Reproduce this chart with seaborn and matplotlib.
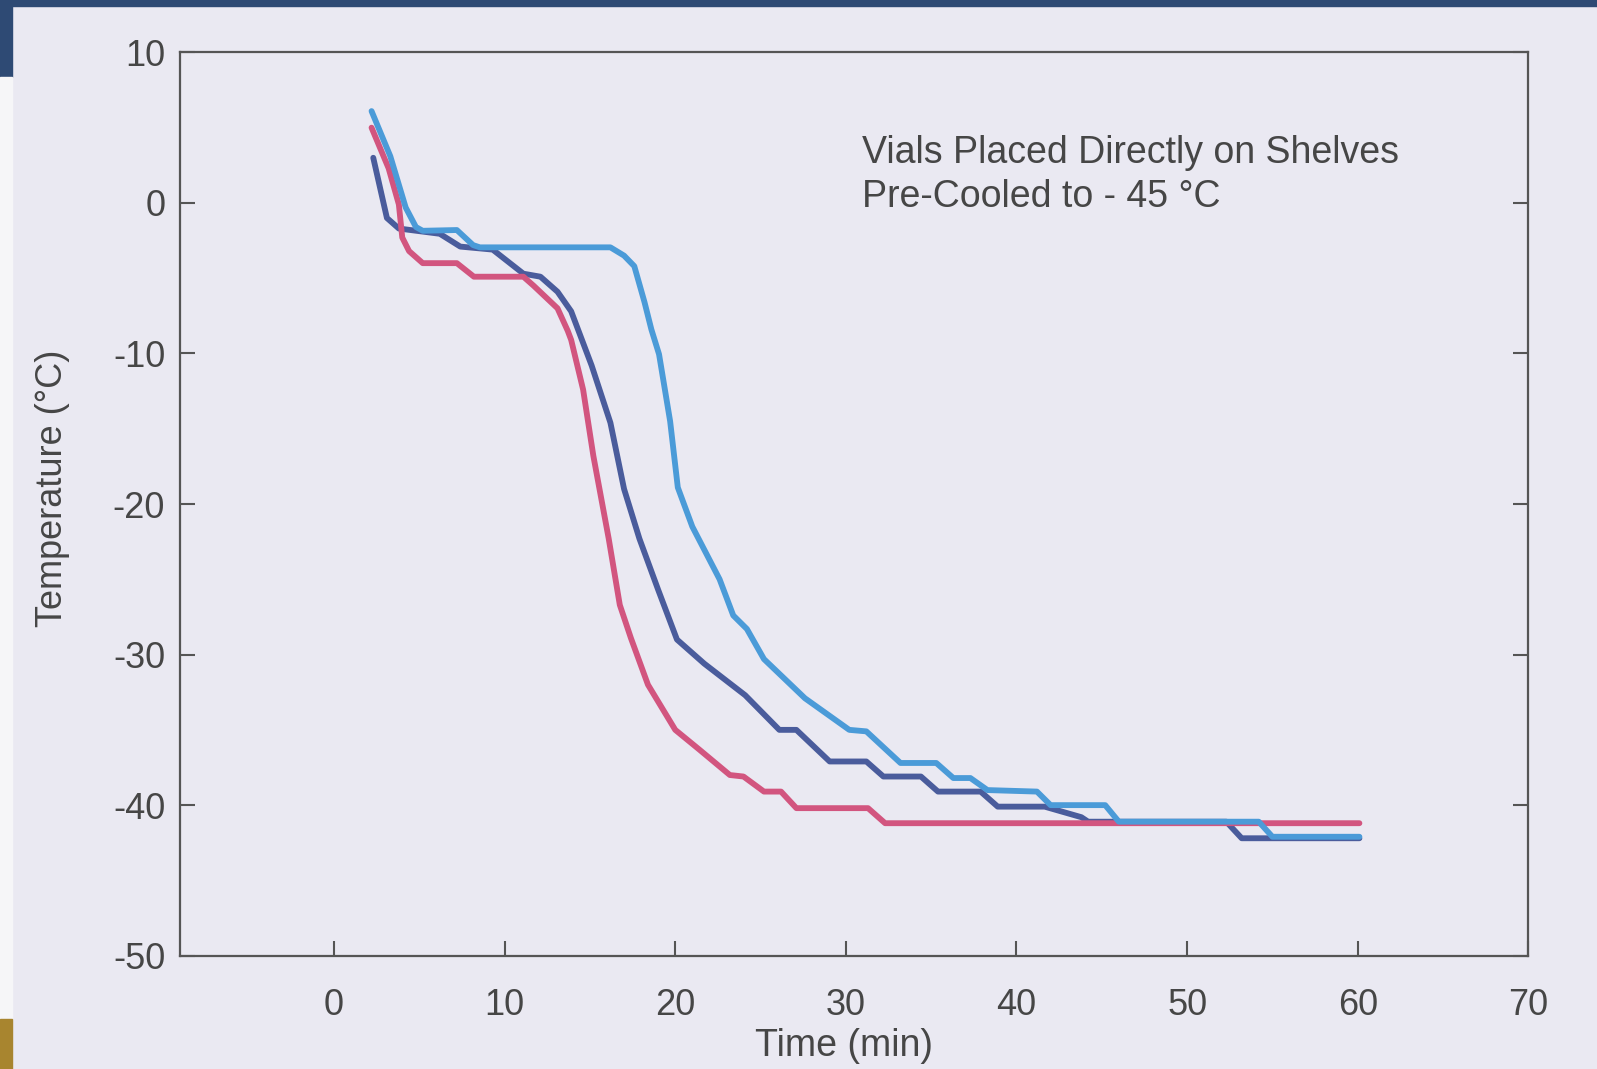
import seaborn as sns
import matplotlib.pyplot as plt
import pandas as pd
from matplotlib.patches import Rectangle

# curves: time (min) vs temperature (deg C)
red_time = [2.2, 3.2, 3.8, 4.0, 4.4, 5.2, 7.2, 8.2, 11.1, 11.7, 13.1, 13.7, 13.9, 14.6,
            15.2, 16.1, 16.75, 17.4, 18.4, 20.0, 21.4, 23.2, 24.0, 25.2, 26.2, 27.1,
            31.3, 32.3, 60.1]
red_temp = [5.0, 2.3, -0.1, -2.3, -3.2, -4.0, -4.0, -4.9, -4.9, -5.5, -7.0, -8.5, -9.1, -12.4,
            -16.8, -22.3, -26.7, -28.9, -32.0, -35.0, -36.3, -38.0, -38.1, -39.1, -39.1, -40.2,
            -40.2, -41.2, -41.2]

dark_time = [2.3, 2.8, 3.1, 3.8, 6.2, 7.4, 9.3, 11.1, 12.1, 13.1, 13.9, 15.1, 16.2, 17.0,
             17.9, 19.0, 20.1, 21.7, 24.1, 26.1, 27.1, 29.05, 31.2, 32.2, 34.4, 35.4, 37.9,
             38.9, 41.65, 43.8, 44.2, 52.3, 53.2, 60.1]
dark_temp = [3.0, 0.5, -1.0, -1.7, -2.05, -2.9, -3.1, -4.7, -4.9, -5.9, -7.2, -10.8, -14.6, -19.0,
             -22.3, -25.7, -29.0, -30.6, -32.7, -35.0, -35.0, -37.1, -37.1, -38.1, -38.1, -39.1, -39.1,
             -40.1, -40.1, -40.8, -41.1, -41.1, -42.2, -42.2]

light_time = [2.2, 3.3, 4.2, 4.8, 5.2, 7.2, 8.15, 8.55, 16.2, 17.0, 17.6, 18.2, 18.6, 19.05,
              19.7, 20.15, 21.0, 22.6, 23.4, 24.2, 25.2, 27.6, 30.2, 31.2, 33.2, 35.3, 36.3,
              37.3, 38.3, 41.2, 42.0, 45.2, 46.0, 54.2, 55.0, 60.1]
light_temp = [6.1, 3.1, -0.3, -1.6, -1.85, -1.8, -2.8, -2.95, -2.95, -3.5, -4.2, -6.6, -8.4, -10.05,
              -14.5, -18.9, -21.5, -25.0, -27.4, -28.3, -30.3, -32.9, -35.0, -35.1, -37.2, -37.2, -38.2,
              -38.2, -39.0, -39.1, -40.0, -40.0, -41.1, -41.1, -42.1, -42.1]

x_ticks = [0, 10, 20, 30, 40, 50, 60, 70]
y_ticks = [-50, -40, -30, -20, -10, 0, 10]

df = pd.concat([
    pd.DataFrame({'time': dark_time, 'temp': dark_temp, 'vial': 'dark'}),
    pd.DataFrame({'time': red_time, 'temp': red_temp, 'vial': 'red'}),
    pd.DataFrame({'time': light_time, 'temp': light_temp, 'vial': 'light'}),
])

bg = '#eae9f2'
ink = '#464646'
colors = {'dark': '#4a5c9c', 'red': '#d2557f', 'light': '#4b9bd8'}

sns.set_style('ticks')
plt.rcParams['font.family'] = ['Liberation Sans', 'DejaVu Sans']
plt.rcParams['axes.unicode_minus'] = False

fig = plt.figure(figsize=(15.97, 10.69), dpi=100, facecolor=bg)
# bits of the slide frame around the photographed chart
fig.patches.append(Rectangle((0, 0.9945), 1, 0.0055, transform=fig.transFigure, color='#2e4a74', zorder=0))
fig.patches.append(Rectangle((0, 0.928), 0.0075, 0.072, transform=fig.transFigure, color='#2e4a74', zorder=0))
fig.patches.append(Rectangle((0, 0.045), 0.0075, 0.883, transform=fig.transFigure, color='#f6f6f8', zorder=0))
fig.patches.append(Rectangle((0, 0), 0.0075, 0.047, transform=fig.transFigure, color='#a8852f', zorder=0))

ax = fig.add_axes([0.113, 0.106, 0.844, 0.845])
ax.set_facecolor(bg)

sns.lineplot(data=df, x='time', y='temp', hue='vial', hue_order=['dark', 'red', 'light'],
             palette=colors, estimator=None, sort=False, lw=4.2, legend=False, ax=ax)

ax.set_xlim(-9, 70)
ax.set_ylim(-50, 10)
ax.set_xticks(x_ticks)
ax.set_yticks(y_ticks)

for s in ax.spines.values():
    s.set_color('#555555')
    s.set_linewidth(1.6)

ax.tick_params(axis='x', direction='in', length=11, width=1.5, pad=23,
               labelsize=26, colors='#555555', labelcolor=ink)
ax.tick_params(axis='y', direction='in', length=11, width=1.5, pad=11,
               labelsize=26, colors='#555555', labelcolor=ink, right=True)

ax.set_ylabel('Temperature (°C)', fontsize=26, color=ink)
ax.yaxis.set_label_coords(-0.082, 0.517)
ax.set_xlabel('Time (min)', fontsize=27, color=ink)
ax.xaxis.set_label_coords(0.4926, -0.080)

ax.text(0.506, 0.877, 'Vials Placed Directly on Shelves', transform=ax.transAxes,
        fontsize=27, color=ink, va='baseline')
ax.text(0.506, 0.8285, 'Pre-Cooled to - 45 °C', transform=ax.transAxes,
        fontsize=27, color=ink, va='baseline')

fig.savefig('out.png', dpi=100, facecolor=fig.get_facecolor())
